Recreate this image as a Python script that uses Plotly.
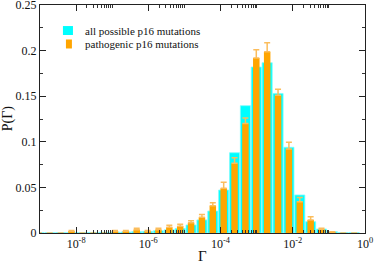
import numpy as np
import plotly.graph_objects as go

# Gamma bin centres expressed as powers of two (Gamma = 2**exp)
bin_exp = [-30, -29, -28, -27, -26, -25, -24, -23, -22, -21, -20, -19, -18, -17, -16,
           -15, -14, -13, -12, -11, -10, -9, -8, -7, -6, -5, -4, -3, -2, -1]

p_all = [0.0003, 0.0003, 0.0004, 0.0004, 0.0005, 0.0006, 0.0008, 0.0009, 0.0011, 0.0015,
         0.0018, 0.0025, 0.0035, 0.0050, 0.0088, 0.0143, 0.0241, 0.0471, 0.0880, 0.1396,
         0.1820, 0.1867, 0.1530, 0.0940, 0.0417, 0.0124, 0.0044, 0.0014, 0.0005, 0.0005]

p_path = [0, 0, 0, 0.0018, 0, 0, 0, 0.0018, 0.0018, 0.0037,
          0.0018, 0.0037, 0.0062, 0.0075, 0.0113, 0.0172, 0.0300, 0.0490, 0.0764, 0.1200,
          0.1920, 0.1988, 0.1510, 0.0920, 0.0343, 0.0143, 0.0041, 0.0010, 0, 0]

p_path_err = [None, None, None, 0.0010, None, None, None, 0.0010, 0.0010, 0.0015,
              0.0010, 0.0015, 0.0022, 0.0020, 0.0022, 0.0030, 0.0033, 0.0066, 0.0062, 0.0060,
              0.0090, 0.0099, 0.0065, 0.0074, 0.0047, 0.0036, 0.0010, 0.0005, None, None]

series_names = ["all possible p16 mutations", "pathogenic p16 mutations"]
series_colors = ["#00ffff", "#ffa500"]

major_exp = [-8, -6, -4, -2, 0]
minor_decades = [-8, -6, -4, -2]
y_ticks = [0, 0.05, 0.1, 0.15, 0.2, 0.25]
y_ticktext = ["0", "0.05", "0.1", "0.15", "0.2", "0.25"]

x_log = np.log10(2.0 ** np.array(bin_exp, dtype=float))

major_vals = [float(e) for e in major_exp]
major_text = ["10<sup>%d</sup>" % e for e in major_exp]
minor_vals = [float(np.log10(k * 10.0 ** d)) for d in minor_decades for k in range(2, 11)]

serif = "Liberation Serif, Times New Roman, serif"

fig = go.Figure()
fig.add_trace(go.Bar(
    x=x_log, y=p_all, width=0.28, name=series_names[0],
    marker=dict(color=series_colors[0], line=dict(color="#7ffcfc", width=0.8)),
))
fig.add_trace(go.Bar(
    x=x_log, y=p_path, width=0.18, name=series_names[1],
    marker=dict(color=series_colors[1], line=dict(width=0)),
    error_y=dict(type="data", array=p_path_err, symmetric=False,
                 arrayminus=[0] * len(p_path_err),
                 color="#fbbd5c", thickness=1.5, width=3),
))

# manual legend (paper coordinates)
leg_y = [0.888, 0.829]
leg_x = [0.086, 0.089]
leg_half_w = [0.0154, 0.0092]
leg_half_h = 0.0197
shapes = []
annotations = []
for i in range(2):
    shapes.append(dict(type="rect", xref="paper", yref="paper",
                       x0=leg_x[i] - leg_half_w[i], x1=leg_x[i] + leg_half_w[i],
                       y0=leg_y[i] - leg_half_h, y1=leg_y[i] + leg_half_h,
                       fillcolor=series_colors[i], line=dict(width=0)))
    annotations.append(dict(xref="paper", yref="paper", x=0.132, y=leg_y[i],
                            xanchor="left", yanchor="middle", showarrow=False,
                            text=series_names[i],
                            font=dict(family=serif, size=11, color="#111")))
annotations.append(dict(xref="paper", yref="paper", x=0.5, y=-0.1,
                        xanchor="center", yanchor="middle", showarrow=False,
                        text="Γ", font=dict(family=serif, size=15, color="#111")))
annotations.append(dict(xref="paper", yref="paper", x=-0.098, y=0.504,
                        xanchor="center", yanchor="middle", showarrow=False,
                        text="P(Γ)", textangle=-90,
                        font=dict(family=serif, size=14, color="#111")))

fig.update_layout(
    width=374, height=263,
    margin=dict(l=40, r=9, t=5, b=30, autoexpand=False),
    paper_bgcolor="white", plot_bgcolor="white",
    barmode="overlay",
    font=dict(family=serif, size=12, color="#111"),
    showlegend=False,
    shapes=shapes,
    annotations=annotations,
    xaxis=dict(
        range=[-9, 0], showgrid=False, zeroline=False, automargin=False,
        showline=True, linecolor="#222", linewidth=1, mirror="allticks",
        ticks="inside", ticklen=6, tickcolor="#222", tickwidth=1,
        tickvals=major_vals, ticktext=major_text,
        tickfont=dict(family=serif, size=12),
        ticklabeloverflow="allow",
        minor=dict(tickvals=minor_vals, ticks="inside", ticklen=3, tickcolor="#333",
                   tickwidth=1),
    ),
    yaxis=dict(
        range=[0, 0.25], showgrid=False, zeroline=False, automargin=False,
        showline=True, linecolor="#222", linewidth=1, mirror="allticks",
        ticks="inside", ticklen=6, tickcolor="#222", tickwidth=1,
        tickvals=y_ticks, ticktext=y_ticktext,
        tickfont=dict(family=serif, size=12),
        ticklabeloverflow="allow",
        minor=dict(dtick=0.025, ticks="inside", ticklen=3, tickcolor="#333",
                   tickwidth=1),
    ),
)

fig.write_html(
    "out.html",
    config={"displayModeBar": False},
    post_script="document.body.style.margin='0px';document.body.style.overflow='hidden';",
)
